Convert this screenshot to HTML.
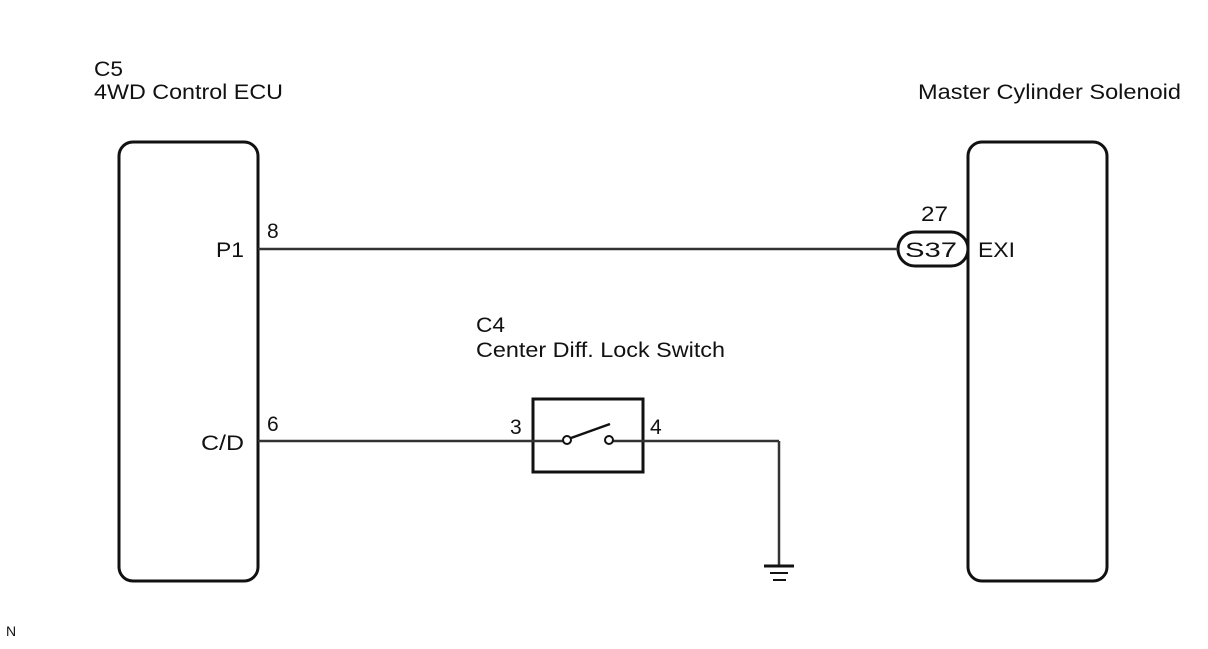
<!DOCTYPE html>
<html><head><style>
body{margin:0;background:#fff;}
svg text{font-family:"Liberation Sans",sans-serif;fill:#111;}
</style></head><body>
<svg width="1208" height="644" xmlns="http://www.w3.org/2000/svg">
<g font-size="21">
<text x="94" y="76" textLength="29" lengthAdjust="spacingAndGlyphs">C5</text>
<text x="94" y="99" textLength="189" lengthAdjust="spacingAndGlyphs">4WD Control ECU</text>
<text x="918" y="99" textLength="263" lengthAdjust="spacingAndGlyphs">Master Cylinder Solenoid</text>
<text x="476" y="332" textLength="29" lengthAdjust="spacingAndGlyphs">C4</text>
<text x="476" y="357" textLength="249" lengthAdjust="spacingAndGlyphs">Center Diff. Lock Switch</text>
<text x="216" y="257" textLength="28" lengthAdjust="spacingAndGlyphs">P1</text>
<text x="201" y="450" textLength="43" lengthAdjust="spacingAndGlyphs">C/D</text>
<text x="267" y="238">8</text>
<text x="267" y="431">6</text>
<text x="921" y="221" textLength="27" lengthAdjust="spacingAndGlyphs">27</text>
<text x="978" y="257" textLength="37" lengthAdjust="spacingAndGlyphs">EXI</text>
<text x="510" y="434">3</text>
<text x="650" y="434">4</text>
<text x="905" y="257" textLength="52" lengthAdjust="spacingAndGlyphs">S37</text>
<text x="6" y="636" font-size="14">N</text>
</g>
<g fill="none" stroke="#111" stroke-width="3">
<rect x="119" y="142" width="139" height="439" rx="14"/>
<rect x="968" y="142" width="139" height="439" rx="14"/>
<rect x="533" y="399" width="110" height="73"/>
<rect x="898" y="232" width="70" height="34" rx="17"/>
</g>
<g fill="none" stroke="#333" stroke-width="2.5">
<line x1="258" y1="249" x2="898" y2="249"/>
<line x1="258" y1="441" x2="533" y2="441"/>
<line x1="533" y1="441" x2="563" y2="441"/>
<line x1="613" y1="441" x2="779" y2="441"/>
<line x1="779" y1="441" x2="779" y2="565"/>
<line x1="571" y1="438" x2="610" y2="424" stroke="#111"/>
</g>
<circle cx="567" cy="440" r="4" fill="#fff" stroke="#111" stroke-width="2"/>
<circle cx="609" cy="440" r="4" fill="#fff" stroke="#111" stroke-width="2"/>
<g stroke="#111">
<line x1="764" y1="566" x2="794" y2="566" stroke-width="3"/>
<line x1="770" y1="573" x2="788" y2="573" stroke-width="2"/>
<line x1="773" y1="580" x2="786" y2="580" stroke-width="2"/>
</g>
</svg>
</body></html>
